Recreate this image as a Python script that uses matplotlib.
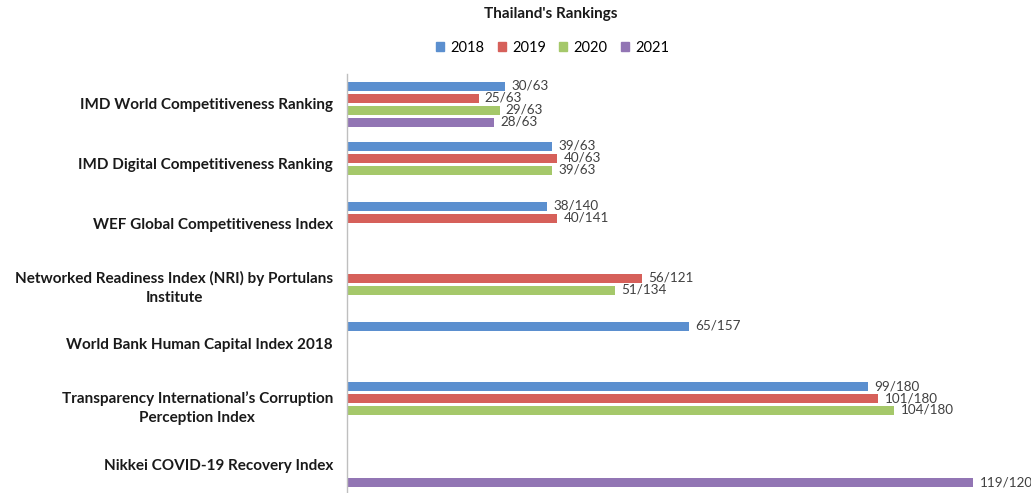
import matplotlib
matplotlib.use("Agg")
import matplotlib.pyplot as plt
import numpy as np

categories = [
    "IMD World Competitiveness Ranking",
    "IMD Digital Competitiveness Ranking",
    "WEF Global Competitiveness Index",
    "Networked Readiness Index (NRI) by Portulans\nInstitute",
    "World Bank Human Capital Index 2018",
    "Transparency International\u2019s Corruption\nPerception Index",
    "Nikkei COVID-19 Recovery Index",
]
years = ["2018", "2019", "2020", "2021"]
rank_2018 = [30, 39, 38, None, 65, 99, None]
rank_2019 = [25, 40, 40, 56, None, 101, None]
rank_2020 = [29, 39, None, 51, None, 104, None]
rank_2021 = [28, None, None, None, None, None, 119]
total_2018 = [63, 63, 140, None, 157, 180, None]
total_2019 = [63, 63, 141, 121, None, 180, None]
total_2020 = [63, 63, None, 134, None, 180, None]
total_2021 = [63, None, None, None, None, None, 120]

ranks = [rank_2018, rank_2019, rank_2020, rank_2021]
totals = [total_2018, total_2019, total_2020, total_2021]
colors = ["#5B8FCF", "#D6605A", "#A5C86A", "#9275B4"]

plt.rcParams['font.family'] = ['Lato', 'DejaVu Sans']

fig = plt.figure(figsize=(10.31, 4.93), dpi=100)
ax = fig.add_axes([347/1031, -1/493, 684/1031, 420/493])

offsets = [-0.3, -0.1, 0.1, 0.3]
y_base = np.arange(len(categories))
for s in range(4):
    for i in range(len(categories)):
        v = ranks[s][i]
        if v is None:
            continue
        y = y_base[i] + offsets[s]
        ax.barh(y, v, height=0.15, color=colors[s], edgecolor="none")
        ax.text(v + 1.2, y, f"{v}/{totals[s][i]}", va="center", ha="left",
                fontsize=9.7, color="#404040")

ax.set_xlim(0, 130)
ax.set_ylim(6.5, -0.5)
ax.set_yticks(y_base)
ax.set_yticklabels(categories, fontsize=11, fontweight="bold", color="#1a1a1a",
                   multialignment="center", linespacing=1.45)
ax.tick_params(axis="y", length=0, pad=10)
ax.set_xticks([])
for sp in ["top", "right", "bottom"]:
    ax.spines[sp].set_visible(False)
ax.spines["left"].set_color("#BFBFBF")
ax.spines["left"].set_linewidth(1.0)

fig.text(0.5 + 35/1031, 1 - 14/493, "Thailand's Rankings", ha="center", va="center",
         fontsize=11, fontweight="bold", color="#1a1a1a")

handles = [plt.Rectangle((0, 0), 1, 1, color=c) for c in colors]
fig.legend(handles, years, loc="center", bbox_to_anchor=(0.536, 1 - 48/493),
           ncol=4, frameon=False, fontsize=10.5, handlelength=0.55, handleheight=0.55,
           handletextpad=0.45, columnspacing=0.9)

fig.savefig("out.png", dpi=100)
